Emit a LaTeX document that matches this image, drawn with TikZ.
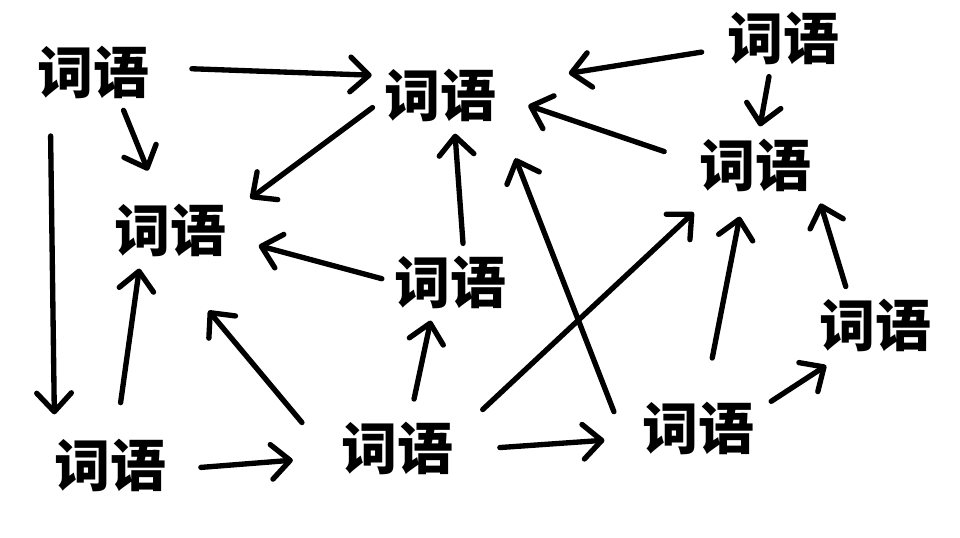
\documentclass[tikz,border=0pt]{standalone}
\usepackage{fontspec}
\newfontfamily\cjk{Noto Sans CJK SC}
\usetikzlibrary{arrows.meta}

\begin{document}
\begin{tikzpicture}[x=0.75pt,y=0.75pt,yscale=-1,xscale=1,
	wort/.style={inner sep=6pt,font=\cjk\bfseries\fontsize{42}{44}\selectfont},
	pfeil/.style={line width=4pt,line cap=round,line join=round,
		-{Straight Barb[length=14pt,width=26pt,round]},shorten >=3pt,shorten <=3pt}]
			\useasboundingbox (0,0) rectangle (960,537);
			
			% Wort oben links
			\node[wort] (A) at (93,72) {词语};
			% Wort oben Mitte
			\node[wort] (B) at (440,95) {词语};
			% Wort oben rechts
			\node[wort] (C) at (783,38) {词语};
			% Wort rechts
			\node[wort] (D) at (755,165) {词语};
			% Wort links
			\node[wort] (E) at (170,230) {词语};
			% Wort Mitte
			\node[wort] (F) at (450,282) {词语};
			% Wort ganz rechts
			\node[wort] (G) at (875,325) {词语};
			% Wort unten links
			\node[wort] (H) at (110,465) {词语};
			% Wort unten Mitte
			\node[wort] (I) at (397,448) {词语};
			% Wort unten rechts
			\node[wort] (J) at (698,428) {词语};
			
			%Pfeil
			\draw[pfeil,shorten <=26pt] (A.4) -- (B.163);
			%Pfeil
			\draw[pfeil,shorten >=20pt] (A.-50) -- (E.109);
			%Pfeil
			\draw[pfeil,shorten <=22pt,shorten >=12pt] (A.-141) -- (H.148);
			%Pfeil
			\draw[pfeil,shorten <=13pt,shorten >=49pt] (C.190) -- (B.10);
			%Pfeil
			\draw[pfeil] (C.-111) -- (D.83);
			%Pfeil
			\draw[pfeil,shorten >=15pt] (B.189) -- (E.17);
			%Pfeil
			\draw[pfeil,shorten <=21pt,shorten >=19pt] (D.176) -- (B.-2);
			%Pfeil
			\draw[pfeil] (F.69) -- (B.-67);
			%Pfeil
			\draw[pfeil,shorten >=19pt] (F.178) -- (E.-8);
			%Pfeil
			\draw[pfeil,shorten <=21pt] (H.79) -- (E.-131);
			%Pfeil
			\draw[pfeil,shorten <=36pt,shorten >=45pt] (I.190) -- (E.south);
			%Pfeil
			\draw[pfeil,shorten <=11pt] (I.68) -- (F.-118);
			%Pfeil
			\draw[pfeil,shorten <=22pt,shorten >=14pt] (I.16) -- (D.-144);
			%Pfeil
			\draw[pfeil,shorten <=20pt,shorten >=30pt] (H.-4) -- (I.188);
			%Pfeil
			\draw[pfeil,shorten <=29pt,shorten >=22pt] (I.-2) -- (J.189);
			%Pfeil
			\draw[pfeil,shorten <=41pt,shorten >=23pt] (J.south west) -- (B.south east);
			%Pfeil
			\draw[pfeil,shorten <=27pt,shorten >=13pt] (J.78) -- (D.-109);
			%Pfeil
			\draw[pfeil,shorten <=8pt,shorten >=8pt] (J.18) -- (G.-139);
			%Pfeil
			\draw[pfeil] (G.129) -- (D.south east);
			
		\end{tikzpicture}
\end{document}
